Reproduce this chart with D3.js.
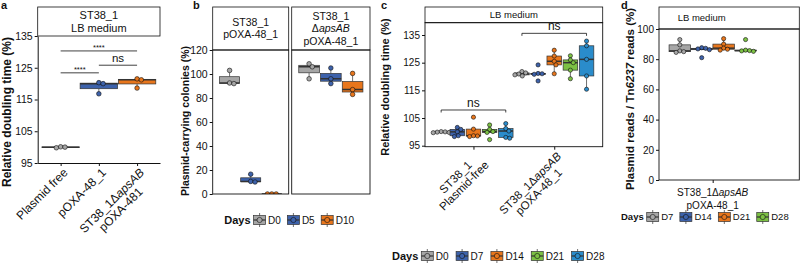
<!DOCTYPE html>
<html>
<head>
<meta charset="utf-8">
<script src="https://cdn.jsdelivr.net/npm/d3@7/dist/d3.min.js"></script>
<style>
  body { margin: 0; background: #fff; }
  svg text { font-family: "Liberation Sans", Arial, Helvetica, sans-serif; fill: #111; }
</style>
</head>
<body>
<script>
// ---------- data ----------
// a: relative doubling time in LB medium
const aGroups = ["Plasmid free", "pOXA-48_1", "ST38_1ΔapsAB\npOXA-481"];
const aValues = [
  [99.8, 100.0, 100.1],
  [116.8, 120.0, 120.3],
  [118.6, 121.2, 121.5]
];
const aTicks = [95, 105, 115, 125, 135];
const aSig = [
  {from: 1, to: 3, y: 130.3, label: "****"},
  {from: 2, to: 3, y: 125.8, label: "ns"},
  {from: 1, to: 2, y: 123.4, label: "****"}
];

// b: plasmid-carrying colonies
const bFacets = ["ST38_1\npOXA-48_1", "ST38_1\nΔapsAB\npOXA-48_1"];
const bDays = ["D0", "D5", "D10"];
const bWild = [[92, 92.5, 103], [10, 10.5, 16.5], [0, 0, 0]];
const bDelta = [[96, 106, 108.5], [92, 96, 105], [83, 87, 100.5]];
const bTicks = [0, 20, 40, 60, 80, 100, 120];

// c: relative doubling time over days
const cGroups = ["ST38_1\nPlasmid-free", "ST38_1ΔapsAB\npOXA-48_1"];
const cDays = ["D0", "D7", "D14", "D21", "D28"];
const cFree = [
  [99.7, 99.8, 99.9, 100.0, 100.1],
  [98.3, 98.6, 100.0, 100.9, 101.6],
  [98.3, 98.5, 98.6, 101.0, 105.3],
  [97.2, 99.8, 100.1, 100.9, 102.5],
  [97.7, 98.0, 100.3, 101.2, 103.0]
];
const cDelta = [
  [120.2, 120.6, 120.9, 121.3, 121.8],
  [118.4, 120.8, 121.0, 121.1, 124.2],
  [121.0, 124.2, 125.5, 127.4, 129.5],
  [119.2, 122.3, 125.0, 126.0, 127.5],
  [115.4, 120.2, 126.2, 131.1, 132.8]
];
const cTicks = [95, 105, 115, 125, 135];
const cSig = [
  {group: 1, y: 107.9, label: "ns"},
  {group: 2, y: 135.6, label: "ns"}
];

// d: plasmid reads / Tn6237 reads
const dGroup = "ST38_1ΔapsAB\npOXA-48_1";
const dDays = ["D7", "D14", "D21", "D28"];
const dValues = [
  [84.5, 85.0, 85.5, 89.5, 93.0],
  [81.0, 86.3, 86.8, 87.2, 87.6],
  [86.0, 86.6, 87.3, 90.0, 93.6],
  [85.2, 85.5, 85.7, 86.0, 93.0]
];
const dTicks = [0, 20, 40, 60, 80, 100];

const palette = ["#a6a6a6", "#3d62ab", "#e8761c", "#7cc144", "#2a8ccb"];

// ---------- helpers ----------
const svg = d3.select("body").append("svg")
  .attr("width", 800)
  .attr("height", 263);

function addRich(sel, str) {
  str.split(/(apsAB|6237)/).filter(s => s.length).forEach(s => {
    sel.append("tspan").text(s)
      .style("font-style", (s === "apsAB" || s === "6237") ? "italic" : null);
  });
}

function swarm(vals, y, r) {
  const D = 2 * r * 0.95;
  const pts = vals.map(v => ({v: v, py: y(v), dx: 0})).sort((a, b) => a.py - b.py);
  const placed = [];
  pts.forEach(p => {
    const cands = [0];
    placed.forEach(q => {
      const dy = Math.abs(q.py - p.py);
      if (dy < D) {
        const dx = Math.sqrt(D * D - dy * dy);
        cands.push(q.dx + dx, q.dx - dx);
      }
    });
    cands.sort((a, b) => Math.abs(a) - Math.abs(b));
    for (const c of cands) {
      if (placed.every(q => Math.hypot(q.dx - c, q.py - p.py) >= D - 0.01)) { p.dx = c; break; }
    }
    placed.push(p);
  });
  return placed;
}

function boxplot(g, y, cx, w, vals, fill, r) {
  const s = vals.slice().sort(d3.ascending);
  const q1 = d3.quantile(s, 0.25), med = d3.quantile(s, 0.5), q3 = d3.quantile(s, 0.75);
  const iqr = q3 - q1;
  const lo = d3.min(s.filter(v => v >= q1 - 1.5 * iqr));
  const hi = d3.max(s.filter(v => v <= q3 + 1.5 * iqr));
  g.append("line").attr("x1", cx).attr("x2", cx).attr("y1", y(hi)).attr("y2", y(q3))
    .attr("stroke", "#333").attr("stroke-width", 0.7);
  g.append("line").attr("x1", cx).attr("x2", cx).attr("y1", y(q1)).attr("y2", y(lo))
    .attr("stroke", "#333").attr("stroke-width", 0.7);
  g.append("rect")
    .attr("x", cx - w / 2).attr("y", y(q3))
    .attr("width", w).attr("height", Math.max(0, y(q1) - y(q3)))
    .attr("fill", fill).attr("stroke", "#333").attr("stroke-width", 0.7);
  g.append("line").attr("x1", cx - w / 2).attr("x2", cx + w / 2).attr("y1", y(med)).attr("y2", y(med))
    .attr("stroke", "#333").attr("stroke-width", 1.5);
  g.selectAll(null).data(swarm(vals, y, r)).enter()
    .append("circle")
    .attr("cx", d => cx + d.dx)
    .attr("cy", d => d.py)
    .attr("r", r)
    .attr("fill", fill)
    .attr("stroke", "#111")
    .attr("stroke-width", 0.6);
}

function styleAxis(ax, fs) {
  ax.selectAll("line").attr("stroke", "#111");
  ax.select(".domain").attr("stroke", "#111");
  ax.selectAll("text").attr("font-size", fs).attr("fill", "#111");
}

function strip(g, x0, x1, y0, y1, label, fs, lh) {
  g.append("rect").attr("x", x0).attr("y", y0).attr("width", x1 - x0).attr("height", y1 - y0)
    .attr("fill", "#fff").attr("stroke", "#111").attr("stroke-width", 0.8);
  const lines = label.split("\n");
  const cy = (y0 + y1) / 2;
  lines.forEach((ln, i) => {
    const t = g.append("text")
      .attr("x", (x0 + x1) / 2)
      .attr("y", cy + (i - (lines.length - 1) / 2) * lh + 0.35 * fs)
      .attr("text-anchor", "middle").attr("font-size", fs);
    addRich(t, ln);
  });
}

function rotatedLabel(g, x, y, label, fs) {
  const t = g.append("g").attr("transform", `translate(${x},${y}) rotate(-45)`);
  const nodes = label.split("\n").map((ln, i) => {
    const tx = t.append("text").attr("text-anchor", "end").attr("font-size", fs)
      .attr("dy", (0.75 + i * 1.05) + "em");
    addRich(tx, ln);
    return tx;
  });
  const widths = nodes.map(n => n.node().getComputedTextLength());
  const mw = d3.max(widths);
  nodes.forEach((n, i) => n.attr("x", -(mw - widths[i]) / 2));
}

function yTitle(g, x, y, label, fs) {
  const t = g.append("text")
    .attr("transform", `translate(${x},${y}) rotate(-90)`)
    .attr("text-anchor", "middle").attr("dy", "0.35em")
    .attr("font-size", fs).attr("font-weight", "bold");
  addRich(t, label);
}

function legend(g, x, y, days, fs, tfs, gap) {
  const title = g.append("text").attr("x", x).attr("y", y + 0.35 * fs)
    .attr("font-size", tfs).attr("font-weight", "bold").text("Days");
  let cx = x + title.node().getComputedTextLength() + 2.5;
  days.forEach((d, i) => {
    const k = g.append("g").attr("transform", `translate(${cx},${y})`);
    k.append("line").attr("x1", 6.5).attr("x2", 6.5).attr("y1", -7).attr("y2", 7)
      .attr("stroke", "#333").attr("stroke-width", 0.7);
    k.append("rect").attr("x", 0.5).attr("y", -4.5).attr("width", 12).attr("height", 9)
      .attr("fill", palette[i]).attr("stroke", "#333").attr("stroke-width", 0.7);
    k.append("line").attr("x1", 0.5).attr("x2", 12.5).attr("y1", 0).attr("y2", 0)
      .attr("stroke", "#333").attr("stroke-width", 1.2);
    k.append("circle").attr("cx", 6.5).attr("cy", 0).attr("r", 2.6)
      .attr("fill", palette[i]).attr("stroke", "#111").attr("stroke-width", 0.6);
    const t = g.append("text").attr("x", cx + 15).attr("y", y + 0.35 * fs)
      .attr("font-size", fs).text(d);
    cx += 15 + t.node().getComputedTextLength() + gap;
  });
}

function panelLetter(x, y, ch) {
  svg.append("text").attr("x", x).attr("y", y).attr("font-size", 11)
    .attr("font-weight", "bold").text(ch);
}

// ---------- panel a ----------
{
  const g = svg.append("g");
  const x = d3.scaleLinear().domain([0.4, 3.6]).range([37.7, 160]);
  const y = d3.scaleLinear().domain([95, 135]).range([163, 36]);
  const bw = (x(1) - x(0)) * 0.98;

  strip(g, 37.7, 160, 7, 36, "ST38_1\nLB medium", 11, 13.5);

  g.append("g").attr("transform", "translate(37.7,0)")
    .call(d3.axisLeft(y).tickValues(aTicks).tickSize(3).tickSizeOuter(0).tickPadding(2))
    .call(ax => styleAxis(ax, 10.5));
  g.append("g").attr("transform", "translate(0,163)")
    .call(d3.axisBottom(x).tickValues([1, 2, 3]).tickFormat("").tickSize(3).tickSizeOuter(0))
    .call(ax => styleAxis(ax, 10.5));

  aValues.forEach((vals, i) => boxplot(g, y, x(i + 1), bw, vals, palette[i], 2.3));

  aSig.forEach(s => {
    g.append("line").attr("x1", x(s.from)).attr("x2", x(s.to)).attr("y1", y(s.y)).attr("y2", y(s.y))
      .attr("stroke", "#111").attr("stroke-width", 0.8);
    g.append("text").attr("x", (x(s.from) + x(s.to)) / 2)
      .attr("y", y(s.y) - (s.label === "ns" ? 3 : 0.5))
      .attr("text-anchor", "middle")
      .attr("font-size", s.label === "ns" ? 11.5 : 7.5)
      .text(s.label);
  });

  aGroups.forEach((lab, i) => rotatedLabel(g, x(i + 1) + 1.5, 167, lab, 12));
  yTitle(g, 7, 112, "Relative doubling time (%)", 12);
  panelLetter(1, 9, "a");
}

// ---------- panel b ----------
{
  const g = svg.append("g");
  const y = d3.scaleLinear().domain([0, 120]).range([194, 50]);
  const facets = [[212.7, 288.7], [291.7, 370]];
  const sets = [bWild, bDelta];

  facets.forEach((f, fi) => {
    const x = d3.scaleLinear().domain([0.4, 1.6]).range(f);
    const slot = 1 / bDays.length;
    strip(g, f[0], f[1], 7, 50, bFacets[fi], 10.5, 12.6);
    const clipId = "clipb" + fi;
    g.append("clipPath").attr("id", clipId).append("rect")
      .attr("x", f[0]).attr("y", 50).attr("width", f[1] - f[0]).attr("height", 144);
    const inner = g.append("g").attr("clip-path", `url(#${clipId})`);
    sets[fi].forEach((vals, di) => {
      const cx = x(1 - 0.5 + slot * (di + 0.5));
      boxplot(inner, y, cx, (x(slot) - x(0)) * 0.95, vals, palette[di], 2.3);
    });
    g.append("rect").attr("x", f[0]).attr("y", 50).attr("width", f[1] - f[0]).attr("height", 144)
      .attr("fill", "none").attr("stroke", "#111").attr("stroke-width", 0.9);
  });

  g.append("g").attr("transform", "translate(212.7,0)")
    .call(d3.axisLeft(y).tickValues(bTicks).tickSize(3).tickSizeOuter(0).tickPadding(2))
    .call(ax => { styleAxis(ax, 10.5); ax.select(".domain").remove(); });

  yTitle(g, 185, 121, "Plasmid-carrying colonies (%)", 10.5);
  legend(g, 224.3, 220, bDays, 10, 11, 6);
  panelLetter(193, 9, "b");
}

// ---------- panel c ----------
{
  const g = svg.append("g");
  const x = d3.scaleLinear().domain([0.4, 2.6]).range([425, 602.7]);
  const y = d3.scaleLinear().domain([95, 135]).range([145.7, 35]);
  const slot = 1 / cDays.length;
  const bw = (x(slot) - x(0)) * 0.9;
  const dayX = (gi, di) => x(gi - 0.5 + slot * (di + 0.5));

  strip(g, 425, 602.7, 7, 22.7, "LB medium", 9.5, 12);

  g.append("g").attr("transform", "translate(425,0)")
    .call(d3.axisLeft(y).tickValues(cTicks).tickSize(3).tickSizeOuter(0).tickPadding(2))
    .call(ax => { styleAxis(ax, 10); ax.select(".domain").remove(); });
  g.append("g").attr("transform", "translate(0,146.7)")
    .call(d3.axisBottom(x).tickValues([1, 2]).tickFormat("").tickSize(3).tickSizeOuter(0))
    .call(ax => { styleAxis(ax, 10); ax.select(".domain").remove(); });

  [cFree, cDelta].forEach((set, gi) => {
    set.forEach((vals, di) => boxplot(g, y, dayX(gi + 1, di), bw, vals, palette[di], 2.1));
  });

  g.append("rect").attr("x", 425).attr("y", 22.7).attr("width", 177.7).attr("height", 124)
    .attr("fill", "none").attr("stroke", "#111").attr("stroke-width", 0.9);

  cSig.forEach(s => {
    const x1 = dayX(s.group, 0), x2 = dayX(s.group, cDays.length - 1), yy = y(s.y);
    g.append("path")
      .attr("d", `M${x1},${yy + 2.5}V${yy}H${x2}V${yy + 2.5}`)
      .attr("fill", "none").attr("stroke", "#111").attr("stroke-width", 0.8);
    g.append("text").attr("x", (x1 + x2) / 2).attr("y", yy - 3)
      .attr("text-anchor", "middle").attr("font-size", 12).text(s.label);
  });

  cGroups.forEach((lab, i) => rotatedLabel(g, x(i + 1) + 1.5, 151, lab, 11.5));
  yTitle(g, 385, 87, "Relative doubling time (%)", 11);
  legend(g, 392, 256, cDays, 10, 11, 7);
  panelLetter(381, 9, "c");
}

// ---------- panel d ----------
{
  const g = svg.append("g");
  const x = d3.scaleLinear().domain([0.4, 1.968]).range([659, 799.3]);
  const y = d3.scaleLinear().domain([0, 100]).range([180, 29]);
  const slot = 0.98 / dDays.length;

  g.append("rect").attr("x", 659).attr("y", 7).attr("width", 140.3).attr("height", 22)
    .attr("fill", "#fff").attr("stroke", "#111").attr("stroke-width", 0.8);
  g.append("text").attr("x", 701.7).attr("y", 20.5).attr("text-anchor", "middle")
    .attr("font-size", 9.5).text("LB medium");

  g.append("g").attr("transform", "translate(659,0)")
    .call(d3.axisLeft(y).tickValues(dTicks).tickSize(3).tickSizeOuter(0).tickPadding(2))
    .call(ax => { styleAxis(ax, 10); ax.select(".domain").remove(); });
  g.append("g").attr("transform", "translate(0,180)")
    .call(d3.axisBottom(x).tickValues([1]).tickFormat("").tickSize(3).tickSizeOuter(0))
    .call(ax => { styleAxis(ax, 10); ax.select(".domain").remove(); });

  dValues.forEach((vals, di) => {
    const cx = x(1 - 0.49 + slot * (di + 0.5));
    boxplot(g, y, cx, (x(slot) - x(0)) * 0.98, vals, palette[di], 2.1);
  });

  g.append("rect").attr("x", 659).attr("y", 29).attr("width", 140.3).attr("height", 151)
    .attr("fill", "none").attr("stroke", "#111").attr("stroke-width", 0.9);

  dGroup.split("\n").forEach((ln, i) => {
    const t = g.append("text").attr("x", x(1)).attr("y", 196 + i * 12.5)
      .attr("text-anchor", "middle").attr("font-size", 10);
    addRich(t, ln);
  });
  yTitle(g, 630, 99, "Plasmid reads / Tn6237 reads (%)", 11.5);
  legend(g, 621, 217, dDays, 9.5, 9.5, 6);
  panelLetter(621, 9, "d");
}
</script>
</body>
</html>
